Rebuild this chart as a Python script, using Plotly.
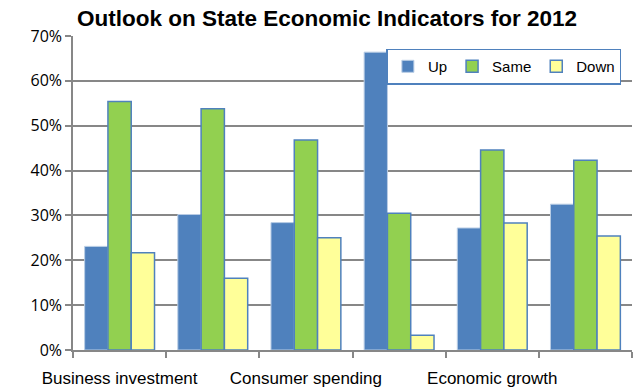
import plotly.graph_objects as go

categories = ["Business investment", "Construction", "Consumer spending",
              "Costs", "Economic growth", "Employment"]
up = [0.231, 0.302, 0.284, 0.664, 0.272, 0.325]
same = [0.554, 0.538, 0.468, 0.305, 0.446, 0.423]
down = [0.217, 0.160, 0.250, 0.033, 0.283, 0.254]
# Excel shows every other category label
tick_text = [c if i % 2 == 0 else "" for i, c in enumerate(categories)]

fig = go.Figure()
fig.add_trace(go.Bar(name="Up", x=categories, y=up,
                     marker=dict(color="#4F81BD", line=dict(color="#B9CDE5", width=1))))
fig.add_trace(go.Bar(name="Same", x=categories, y=same,
                     marker=dict(color="#92D050", line=dict(color="#4F81BD", width=1.5))))
fig.add_trace(go.Bar(name="Down", x=categories, y=down,
                     marker=dict(color="#FFFF99", line=dict(color="#4F81BD", width=1.5))))

fig.update_layout(
    width=634, height=391,
    margin=dict(l=73, r=2, t=36, b=41),
    paper_bgcolor="white", plot_bgcolor="white",
    barmode="group", bargap=0.25, bargroupgap=0,
    font=dict(family="Arial", size=14, color="#000000"),
    title=dict(text="<b>Outlook on State Economic Indicators for 2012</b>",
               x=327/634, xanchor="center", y=1 - 18/391, yanchor="middle",
               font=dict(size=22.5, family="Arial", color="#000000")),
    legend=dict(orientation="h", x=0.981, xanchor="right", y=0.96, yanchor="top",
                bgcolor="white", bordercolor="#4F81BD", borderwidth=1.5,
                font=dict(size=15, family="Arial"), itemwidth=30,
                tracegroupgap=0, traceorder="normal"),
    xaxis=dict(range=[-0.5, 5.5], tickmode="array", tickvals=categories,
               ticktext=tick_text, tickfont=dict(size=17, family="Arial"),
               tickangle=0, automargin=False,
               ticks="outside", tickson="boundaries", ticklabelstandoff=12,
               ticklen=6, tickcolor="#878787", tickwidth=1.5,
               showline=True, linecolor="#878787", linewidth=1.5,
               showgrid=False, zeroline=False),
    yaxis=dict(range=[0, 0.7], dtick=0.1, tickformat=".0%", automargin=False,
               ticks="outside", ticklen=6, tickcolor="#878787", tickwidth=1.5,
               showline=True, linecolor="#878787", linewidth=1.5,
               showgrid=True, gridcolor="#878787", gridwidth=1.5,
               zeroline=False, tickfont=dict(size=16, family="Open Sans")),
)

fig.write_html("out.html")
